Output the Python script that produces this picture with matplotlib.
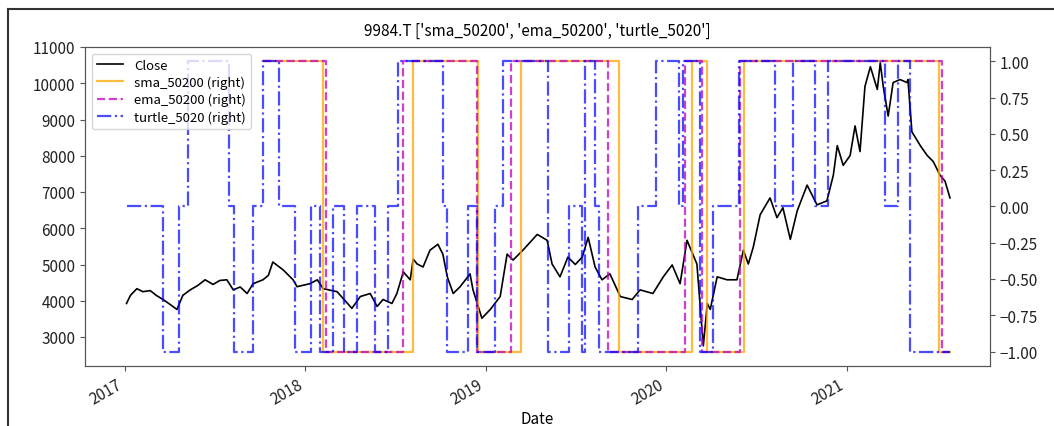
import numpy as np
import pandas as pd
import matplotlib
matplotlib.use("Agg")
import matplotlib.pyplot as plt
from matplotlib.lines import Line2D

plt.rcParams['font.family'] = ['Noto Sans CJK KR', 'DejaVu Sans']
plt.rcParams['font.size'] = 11

# Close price
close_dates = [
    '2017-01-04', '2017-01-12', '2017-01-25', '2017-02-06', '2017-02-21', '2017-03-05',
    '2017-03-19', '2017-04-02', '2017-04-16', '2017-04-28', '2017-05-13', '2017-05-28',
    '2017-06-12', '2017-06-28', '2017-07-12', '2017-07-26', '2017-08-08', '2017-08-22',
    '2017-09-05', '2017-09-17', '2017-10-07', '2017-10-18',
    '2017-10-27', '2017-11-17', '2017-12-07', '2017-12-15', '2018-01-10', '2018-01-25',
    '2018-02-06', '2018-03-06', '2018-04-05', '2018-04-22', '2018-05-12', '2018-05-26',
    '2018-06-07', '2018-06-25', '2018-07-05', '2018-07-18', '2018-08-01', '2018-08-07',
    '2018-08-15', '2018-08-27', '2018-09-10', '2018-09-26', '2018-10-06', '2018-10-15',
    '2018-10-27', '2018-11-10', '2018-11-30', '2018-12-06', '2018-12-24', '2019-01-10',
    '2019-01-30', '2019-02-13', '2019-02-25', '2019-03-17', '2019-04-15', '2019-05-05',
    '2019-05-15', '2019-05-31', '2019-06-16', '2019-07-01', '2019-07-15', '2019-07-27',
    '2019-08-10', '2019-08-24', '2019-09-09', '2019-09-30', '2019-10-24', '2019-11-09',
    '2019-12-05', '2019-12-26', '2020-01-13', '2020-01-29', '2020-02-12', '2020-03-03',
    '2020-03-16', '2020-03-24', '2020-03-30', '2020-04-13', '2020-05-03', '2020-05-23',
    '2020-06-05', '2020-06-15', '2020-06-25', '2020-07-09', '2020-07-29', '2020-08-12',
    '2020-08-24', '2020-09-08', '2020-09-22', '2020-10-12', '2020-11-01', '2020-11-21',
    '2020-12-04', '2020-12-12', '2020-12-24', '2021-01-07', '2021-01-17', '2021-01-27',
    '2021-02-06', '2021-02-17', '2021-03-03', '2021-03-09', '2021-03-15', '2021-03-25',
    '2021-04-04', '2021-04-18', '2021-05-02', '2021-05-04', '2021-05-12', '2021-05-29',
    '2021-06-12', '2021-06-24', '2021-07-08', '2021-07-18', '2021-07-28',
]
close = [
    3925, 4150, 4333, 4250, 4280, 4150,
    4034, 3900, 3760, 4150, 4300, 4420,
    4578, 4450, 4560, 4578, 4300, 4380,
    4200, 4470, 4578, 4700,
    5068, 4850, 4578, 4388, 4470, 4578,
    4333, 4250, 3790, 4116, 4200, 3843,
    4034, 3925, 4200, 4796, 4578, 5150,
    5014, 4932, 5395, 5558, 5286, 4660,
    4200, 4388, 4742, 4300, 3517, 3760,
    4116, 5286, 5122, 5395, 5830, 5667,
    5014, 4660, 5204, 5000, 5204, 5748,
    4932, 4578, 4742, 4116, 4034, 4300,
    4200, 4660, 4987, 4470, 5667, 5014,
    2755, 3925, 3760, 4660, 4578, 4578,
    5395, 5014, 5476, 6374, 6837, 6292,
    6565, 5694, 6483, 7190, 6646, 6755,
    7463, 8279, 7735, 8007, 8823, 8116,
    9912, 10456, 9830, 10565, 9912, 9095,
    10020, 10102, 10020, 10102, 8660, 8279,
    8007, 7844, 7463, 7300, 6837,
]

end_date = '2021-07-28'

# signal change points (date, new value)
sma_dates = ['2017-10-07', '2018-02-06', '2018-08-07', '2018-12-16', '2019-03-13',
             '2019-09-28', '2020-02-22', '2020-03-24', '2020-06-07', '2021-07-06', end_date]
sma_vals = [1, -1, 1, -1, 1, -1, 1, -1, 1, -1, -1]

ema_dates = ['2017-10-07', '2018-02-12', '2018-07-18', '2018-12-14', '2019-02-21',
             '2019-09-05', '2020-02-08', '2020-03-14', '2020-05-30', '2021-07-12', end_date]
ema_vals = [1, -1, 1, -1, 1, -1, 1, -1, 1, -1, -1]

turtle_dates = ['2017-01-04', '2017-03-19', '2017-04-20', '2017-05-08', '2017-07-30',
                '2017-08-10', '2017-09-17', '2017-10-07', '2017-11-09', '2017-12-11',
                '2018-01-12', '2018-01-31', '2018-02-26', '2018-03-20', '2018-04-15',
                '2018-05-22', '2018-06-17', '2018-07-07', '2018-10-06', '2018-10-15',
                '2018-11-26', '2018-12-14', '2019-01-20', '2019-02-05', '2019-05-07',
                '2019-06-18', '2019-07-15', '2019-07-21', '2019-08-10', '2019-08-18',
                '2019-11-05', '2019-12-11', '2020-01-27', '2020-02-04', '2020-03-09',
                '2020-04-05', '2020-05-28', '2020-08-09', '2020-09-14', '2020-10-28',
                '2020-11-24', '2021-03-19', '2021-04-14', '2021-05-08', end_date]
turtle_vals = [0, -1, 0, 1, 0,
               -1, 0, 1, 0, -1,
               0, -1, 0, -1, 0,
               -1, 0, 1, 0, -1,
               0, -1, 0, 1, -1,
               0, -1, 1, 0, -1,
               0, 1, 0, 1, -1,
               0, 1, 0, 1, 0,
               1, 0, 1, -1, -1]

fig = plt.figure(figsize=(10.54, 4.27), dpi=100)
ax = fig.add_axes([85 / 1054, 1 - 367 / 427, 905 / 1054, 319 / 427])

ax.plot(pd.to_datetime(close_dates), close, color='black', lw=1.2, label='Close')
ax.set_ylim(2200, 11000)
ax.set_yticks(range(3000, 11001, 1000))

ax2 = ax.twinx()
l1, = ax2.plot(pd.to_datetime(sma_dates), sma_vals, color='orange', lw=1.6,
               alpha=0.75, drawstyle='steps-post', label='sma_50200 (right)')
l2, = ax2.plot(pd.to_datetime(ema_dates), ema_vals, color='m', lw=1.6, ls='--',
               alpha=0.75, drawstyle='steps-post', label='ema_50200 (right)')
l3, = ax2.plot(pd.to_datetime(turtle_dates), turtle_vals, color='b', lw=1.6, ls='-.',
               alpha=0.7, drawstyle='steps-post', label='turtle_5020 (right)')
ax2.set_ylim(-1.1, 1.1)
ax2.set_yticks(np.arange(-1, 1.01, 0.25))
ax2.set_yticklabels([f'{v:.2f}'.replace('-', '\u2212') for v in np.arange(-1, 1.01, 0.25)])

ax.set_xlim(pd.Timestamp('2016-10-12'), pd.Timestamp('2021-10-17'))
ax.set_xticks(pd.to_datetime(['2017-01-01', '2018-01-01', '2019-01-01', '2020-01-01', '2021-01-01']))
ax.set_xticklabels(['2017', '2018', '2019', '2020', '2021'], rotation=30, ha='right')
ax.set_xlabel('Date', labelpad=2)

for a in (ax, ax2):
    for s in a.spines.values():
        s.set_color('#555555')
    a.tick_params(colors='#555555', labelcolor='#222222')

handles = [ax.get_lines()[0], l1, l2, l3]
ax2.legend(handles, [h.get_label() for h in handles], loc='upper left', fontsize=9.5,
           handlelength=2.0, borderpad=0.4, labelspacing=0.3)

ax.set_title("9984.T ['sma_50200', 'ema_50200', 'turtle_5020']", fontsize=11, pad=9)

# outer frame of the screenshot
fig.add_artist(Line2D([8 / 1054, 8 / 1054], [0, 1 - 10 / 427], color='#333333', lw=1.5))
fig.add_artist(Line2D([8 / 1054, 1], [1 - 10 / 427, 1 - 10 / 427], color='#333333', lw=1.5))

fig.savefig('out.png', dpi=100)
